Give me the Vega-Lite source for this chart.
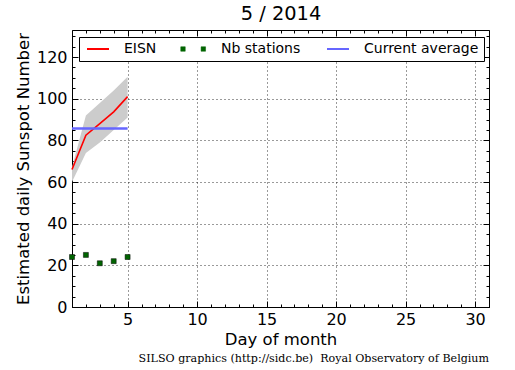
{
  "$schema": "https://vega.github.io/schema/vega-lite/v6.json",
  "width": 417,
  "height": 277,
  "autosize": {"type": "none"},
  "padding": {"left": 72, "top": 30, "right": 26, "bottom": 63},
  "background": "white",
  "title": {
    "text": "SILSO graphics (http://sidc.be)\u00a0 Royal Observatory of Belgium",
    "orient": "bottom",
    "anchor": "end",
    "frame": "group",
    "font": "DejaVu Serif",
    "fontSize": 11.1,
    "fontWeight": "normal",
    "color": "black",
    "offset": 5
  },
  "config": {
    "view": {"stroke": "black", "strokeWidth": 1},
    "axis": {
      "domain": false,
      "tickColor": "black",
      "tickWidth": 1,
      "labelFont": "DejaVu Sans",
      "labelFontSize": 16,
      "labelColor": "black",
      "titleFont": "DejaVu Sans",
      "titleFontSize": 16.5,
      "titleFontWeight": "normal",
      "titleColor": "black",
      "gridColor": "black",
      "gridDash": [1, 3],
      "gridWidth": 0.8,
      "gridOpacity": 1
    }
  },
  "data": {
    "values": [
      {"day": 1, "series": "EISN", "value": 66, "low": 60, "high": 67},
      {"day": 2, "series": "EISN", "value": 82.5, "low": 74, "high": 92},
      {"day": 3, "series": "EISN", "value": 88, "low": 79, "high": 98},
      {"day": 4, "series": "EISN", "value": 93.7, "low": 85, "high": 104},
      {"day": 5, "series": "EISN", "value": 101, "low": 91, "high": 110.5},
      {"day": 1, "series": "Nb stations", "value": 24},
      {"day": 2, "series": "Nb stations", "value": 25},
      {"day": 3, "series": "Nb stations", "value": 21},
      {"day": 4, "series": "Nb stations", "value": 22},
      {"day": 5, "series": "Nb stations", "value": 24},
      {"day": 1, "series": "Current average", "value": 85.7},
      {"day": 5, "series": "Current average", "value": 85.7}
    ]
  },
  "layer": [
    {
      "transform": [{"filter": "datum.series === 'EISN'"}],
      "mark": {"type": "area", "color": "#cccccc", "opacity": 1},
      "encoding": {
        "x": {
          "field": "day", "type": "quantitative",
          "scale": {"domain": [1, 31], "nice": false, "zero": false},
          "axis": {
            "orient": "bottom", "values": [5, 10, 15, 20, 25, 30], "grid": true,
            "tickSize": -6, "labelPadding": 10, "title": "Day of month", "titlePadding": 4
          }
        },
        "y": {
          "field": "low", "type": "quantitative",
          "scale": {"domain": [0, 133], "nice": false, "zero": false},
          "axis": {
            "orient": "left", "values": [0, 20, 40, 60, 80, 100, 120], "grid": true,
            "tickSize": -6, "labelPadding": 11, "title": "Estimated daily Sunspot Number", "titlePadding": 5
          }
        },
        "y2": {"field": "high"}
      }
    },
    {
      "transform": [{"filter": "datum.series === 'EISN'"}],
      "mark": {"type": "line", "strokeWidth": 1.6},
      "encoding": {
        "x": {
          "field": "day", "type": "quantitative",
          "axis": {
            "orient": "top", "values": [5, 10, 15, 20, 25, 30], "grid": false,
            "tickSize": -6, "labels": false, "title": "5 / 2014", "titleFontSize": 19.4,
            "titleFontWeight": "normal", "titleBaseline": "alphabetic", "titlePadding": 10
          }
        },
        "y": {
          "field": "value", "type": "quantitative",
          "axis": {
            "orient": "right", "values": [0, 20, 40, 60, 80, 100, 120], "grid": false,
            "tickSize": -6, "labels": false, "title": null
          }
        },
        "color": {
          "field": "series", "type": "nominal",
          "scale": {"domain": ["EISN", "Nb stations", "Current average"], "range": ["#ff0000", "#006400", "#6666ff"]},
          "legend": {
            "orient": "none", "legendX": 7, "legendY": 7, "direction": "horizontal", "title": null,
            "symbolSize": 64, "labelFont": "DejaVu Sans", "labelFontSize": 14, "labelColor": "black",
            "columnPadding": 22, "labelOffset": 26, "padding": 5,
            "strokeColor": "black", "fillColor": "white", "cornerRadius": 0,
            "symbolStrokeWidth": 2, "symbolType": "stroke",
            "encode": {
              "symbols": {
                "update": {
                  "shape": {"signal": "datum.value === 'Nb stations' ? 'M-1.81,-0.56h1.12v1.12h-1.12z M3.27,-0.56h1.12v1.12h-1.12z' : 'M-1,0H4.5'"},
                  "fill": {"signal": "datum.value === 'Nb stations' ? '#006400' : 'transparent'"},
                  "stroke": {"signal": "datum.value === 'Nb stations' ? 'black' : (datum.value === 'EISN' ? '#ff0000' : '#6666ff')"},
                  "strokeWidth": {"signal": "datum.value === 'Nb stations' ? 0.5 : 2"},
                  "opacity": {"value": 1}
                }
              }
            }
          }
        }
      }
    },
    {
      "transform": [{"filter": "datum.series === 'Current average'"}],
      "mark": {"type": "line", "strokeWidth": 2.6},
      "encoding": {
        "x": {
          "field": "day", "type": "quantitative",
          "axis": {
            "orient": "top", "values": [1,2,3,4,5,6,7,8,9,10,11,12,13,14,15,16,17,18,19,20,21,22,23,24,25,26,27,28,29,30,31],
            "grid": false, "tickSize": -3, "labels": false, "title": null
          }
        },
        "y": {
          "field": "value", "type": "quantitative",
          "axis": {
            "orient": "right", "values": [0,5,10,15,20,25,30,35,40,45,50,55,60,65,70,75,80,85,90,95,100,105,110,115,120,125,130],
            "grid": false, "tickSize": -3, "labels": false, "title": null
          }
        },
        "color": {"field": "series", "type": "nominal"}
      }
    },
    {
      "transform": [{"filter": "datum.series === 'Nb stations'"}],
      "mark": {"type": "point", "shape": "square", "filled": true, "size": 25, "stroke": "black", "strokeWidth": 0.5, "opacity": 1},
      "encoding": {
        "x": {
          "field": "day", "type": "quantitative",
          "axis": {
            "orient": "bottom", "values": [1,2,3,4,5,6,7,8,9,10,11,12,13,14,15,16,17,18,19,20,21,22,23,24,25,26,27,28,29,30,31],
            "grid": false, "tickSize": -3, "labels": false, "title": null
          }
        },
        "y": {
          "field": "value", "type": "quantitative",
          "axis": {
            "orient": "left", "values": [0,5,10,15,20,25,30,35,40,45,50,55,60,65,70,75,80,85,90,95,100,105,110,115,120,125,130],
            "grid": false, "tickSize": -3, "labels": false, "title": null
          }
        },
        "color": {"field": "series", "type": "nominal"}
      }
    }
  ],
  "resolve": {"axis": {"x": "independent", "y": "independent"}}
}
